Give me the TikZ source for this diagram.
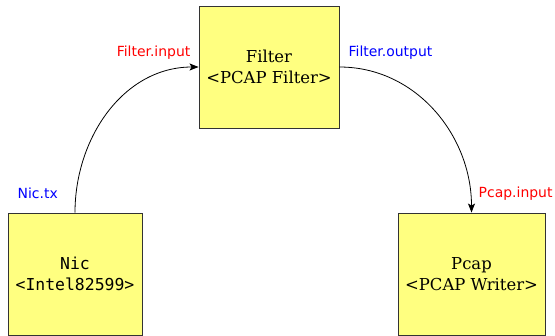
\documentclass[tikz,border=0pt]{standalone}
\usepackage{fontspec}
\setmainfont{DejaVu Serif}
\newfontfamily\monofont{DejaVu Sans Mono}
\newfontfamily\portfont{DejaVu Sans}
\usetikzlibrary{positioning,arrows.meta}
\definecolor{boxfill}{HTML}{FFFF80}
\definecolor{boxline}{HTML}{333333}
\tikzstyle{block} = [draw=boxline, fill=boxfill, line width=0.9pt, rectangle, minimum height=122bp, align=center, font=\fontsize{16.5}{21}\selectfont]
\tikzstyle{inport} = [text=red, inner sep=0pt, font=\portfont\fontsize{14}{16}\selectfont]
\tikzstyle{outport} = [text=blue, inner sep=0pt, font=\portfont\fontsize{14}{16}\selectfont]

\begin{document}
\begin{tikzpicture}[x=1bp, y=1bp, >={Stealth[length=9bp, width=7bp, inset=2bp]}]
\useasboundingbox (0,0) rectangle (555,335);

\node [block, minimum width=140bp] (filter) at (269,268) {Filter\\<PCAP Filter>};
\node [block, minimum width=134bp, font=\monofont\fontsize{16.5}{21}\selectfont] (nic) at (75,61) {Nic\\<Intel82599>};
\node [block, minimum width=147bp] (pcap) at (471.5,61) {Pcap\\<PCAP Writer>};

\node [outport, anchor=east] (nictx) at ([xshift=-17bp, yshift=19bp]nic.north) {Nic.tx};
\node [inport, anchor=east] (filterin) at ([xshift=-8bp, yshift=14bp]filter.west) {Filter.input};
\node [outport, anchor=west] (filterout) at ([xshift=9bp, yshift=14bp]filter.east) {Filter.output};
\node [inport, anchor=west] (pcapin) at ([xshift=7bp, yshift=19bp]pcap.north) {Pcap.input};

\draw [->, line width=0.8pt] (nic.north) to [out=90, in=180] (filter.west);
\draw [->, line width=0.8pt] (filter.east) to [out=0, in=90] (pcap.north);
\end{tikzpicture}
\end{document}
